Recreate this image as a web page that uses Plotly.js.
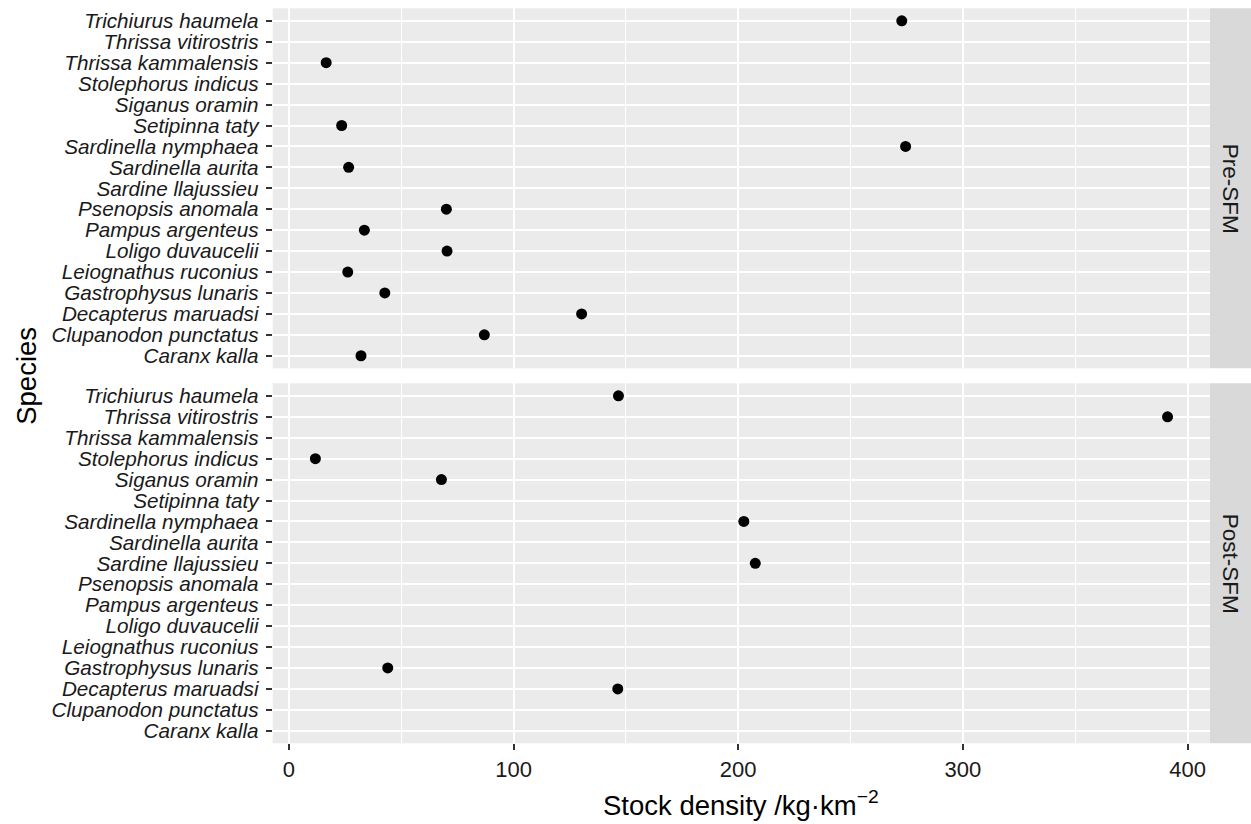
<!DOCTYPE html>
<html>
<head>
<meta charset="utf-8">
<script src="https://cdn.plot.ly/plotly-3.0.1.min.js"></script>
<style>html,body{margin:0;padding:0;background:#fff;}</style>
</head>
<body>
<div id="chart" style="width:1251px;height:824px;"></div>
<script>
// Categories (bottom to top)
const species = [
  'Caranx kalla','Clupanodon punctatus','Decapterus maruadsi','Gastrophysus lunaris',
  'Leiognathus ruconius','Loligo duvaucelii','Pampus argenteus','Psenopsis anomala',
  'Sardine llajussieu','Sardinella aurita','Sardinella nymphaea','Setipinna taty',
  'Siganus oramin','Stolephorus indicus','Thrissa kammalensis','Thrissa vitirostris',
  'Trichiurus haumela'
];
// Stock density values (null = no observation)
const preSFM = [32.1, 87.0, 130.3, 42.7, 26.2, 70.4, 33.6, 70.1, null, 26.6, 274.5, 23.5, null, null, 16.6, null, 272.8];
const postSFM = [null, null, 146.4, 44.0, null, null, null, null, 207.6, null, 202.5, null, 67.9, 11.8, null, 391.1, 146.7];
const panelLabels = ['Pre-SFM', 'Post-SFM'];
const xTicks = [0, 100, 200, 300, 400];

const W = 1251, H = 824;
const xL = 272.7 / W, xR = 1210 / W;
const topPanel = [(H - 368.3) / H, (H - 8.3) / H];
const botPanel = [(H - 743.3) / H, (H - 383.3) / H];
const FONT = 'Liberation Sans, Arial, sans-serif';
const TXT = '#1a1a1a';

const marker = {color: '#000000', size: 11};
const traces = [
  {x: preSFM, y: species, type: 'scatter', mode: 'markers', marker: marker, xaxis: 'x2', yaxis: 'y2', hoverinfo: 'x+y', showlegend: false},
  {x: postSFM, y: species, type: 'scatter', mode: 'markers', marker: marker, xaxis: 'x', yaxis: 'y', hoverinfo: 'x+y', showlegend: false}
];

function xax(showLabels, anchor) {
  return {
    domain: [xL, xR], anchor: anchor, range: [-7.2, 410],
    tickmode: 'array', tickvals: xTicks, ticktext: xTicks.map(String),
    showticklabels: showLabels, ticks: showLabels ? 'outside' : '', ticklen: 6, tickwidth: 2, tickcolor: '#333333',
    tickfont: {family: FONT, size: 22, color: TXT},
    showgrid: true, gridcolor: '#ffffff', gridwidth: 2,
    minor: {tickmode: 'array', tickvals: [50, 150, 250, 350], showgrid: true, gridcolor: '#ffffff', gridwidth: 1, ticks: ''},
    zeroline: false, showline: false, fixedrange: true
  };
}
function yax(domain, anchor) {
  return {
    domain: domain, anchor: anchor, type: 'category',
    categoryorder: 'array', categoryarray: species, range: [-0.6, species.length - 0.4],
    tickmode: 'array', tickvals: species, ticktext: species,
    ticks: 'outside', ticklen: 6, tickwidth: 2, tickcolor: '#333333', ticklabelstandoff: 3,
    tickfont: {family: FONT, size: 20.7, color: TXT, style: 'italic'},
    showgrid: true, gridcolor: '#ffffff', gridwidth: 2,
    zeroline: false, showline: false, fixedrange: true
  };
}

const layout = {
  width: W, height: H,
  margin: {l: 0, r: 0, t: 0, b: 0, pad: 0},
  paper_bgcolor: '#ffffff', plot_bgcolor: '#EBEBEB',
  font: {family: FONT, color: TXT},
  xaxis: xax(true, 'y'),
  yaxis: yax(botPanel, 'x'),
  xaxis2: Object.assign(xax(false, 'y2'), {matches: 'x'}),
  yaxis2: yax(topPanel, 'x2'),
  shapes: [
    {type: 'rect', xref: 'paper', yref: 'paper', x0: xR, x1: 1, y0: topPanel[0], y1: topPanel[1], fillcolor: '#D9D9D9', line: {width: 0}, layer: 'below'},
    {type: 'rect', xref: 'paper', yref: 'paper', x0: xR, x1: 1, y0: botPanel[0], y1: botPanel[1], fillcolor: '#D9D9D9', line: {width: 0}, layer: 'below'}
  ],
  annotations: [
    {text: panelLabels[0], xref: 'paper', yref: 'paper', x: (xR + 1) / 2, y: (topPanel[0] + topPanel[1]) / 2, showarrow: false, textangle: 90, font: {family: FONT, size: 22.5, color: TXT}, xanchor: 'center', yanchor: 'middle'},
    {text: panelLabels[1], xref: 'paper', yref: 'paper', x: (xR + 1) / 2, y: (botPanel[0] + botPanel[1]) / 2, showarrow: false, textangle: 90, font: {family: FONT, size: 22.5, color: TXT}, xanchor: 'center', yanchor: 'middle'},
    {text: 'Species', xref: 'paper', yref: 'paper', x: 27 / W, y: (botPanel[0] + topPanel[1]) / 2, showarrow: false, textangle: -90, font: {family: FONT, size: 27.5, color: '#000000'}, xanchor: 'center', yanchor: 'middle'},
    {text: 'Stock density /kg·km<sup>−2</sup>', xref: 'paper', yref: 'paper', x: (xL + xR) / 2, y: (H - 803) / H, showarrow: false, font: {family: FONT, size: 27.5, color: '#000000'}, xanchor: 'center', yanchor: 'middle'}
  ]
};

Plotly.newPlot('chart', traces, layout, {staticPlot: true, displayModeBar: false});
</script>
</body>
</html>
